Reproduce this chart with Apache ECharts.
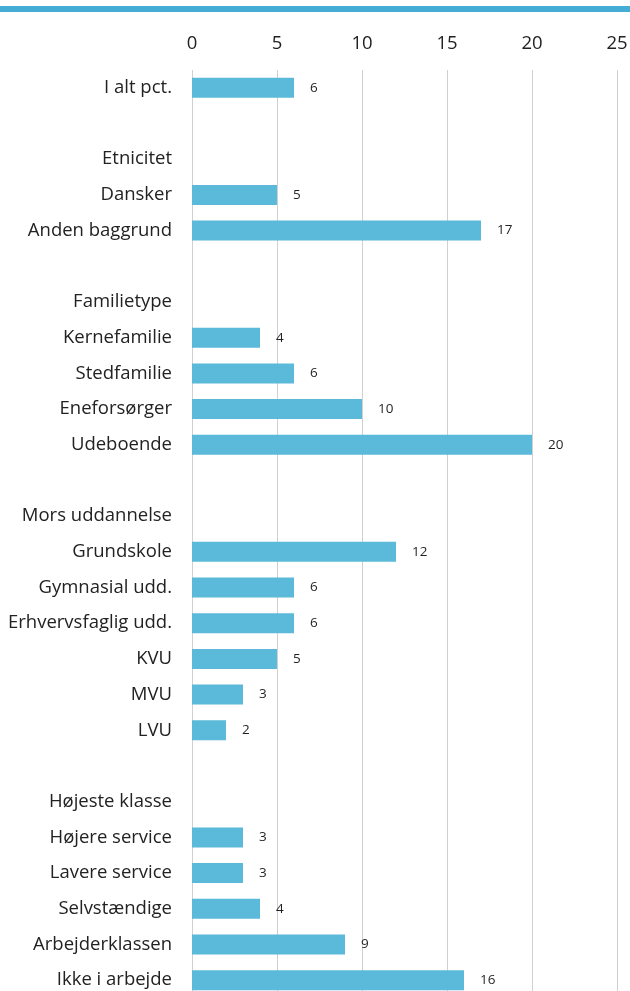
<!DOCTYPE html>
<html>
<head>
<meta charset="utf-8">
<script src="https://cdn.jsdelivr.net/npm/echarts@6/dist/echarts.min.js"></script>
<style>
  html, body { margin: 0; padding: 0; background: #fff; }
  #chart { width: 630px; height: 991px; }
</style>
</head>
<body>
<div id="chart"></div>
<script>
// rækker fra top til bund; tomme rækker er mellemrum mellem grupperne
const categories = [
  'I alt pct.', ' ', 'Etnicitet', 'Dansker', 'Anden baggrund', '  ',
  'Familietype', 'Kernefamilie', 'Stedfamilie', 'Eneforsørger', 'Udeboende', '   ',
  'Mors uddannelse', 'Grundskole', 'Gymnasial udd.', 'Erhvervsfaglig udd.', 'KVU', 'MVU', 'LVU', '    ',
  'Højeste klasse', 'Højere service', 'Lavere service', 'Selvstændige', 'Arbejderklassen', 'Ikke i arbejde'
];
const values = [
  6, null, null, 5, 17, null,
  null, 4, 6, 10, 20, null,
  null, 12, 6, 6, 5, 3, 2, null,
  null, 3, 3, 4, 9, 16
];
const ticks = [0, 5, 10, 15, 20, 25];

const chart = echarts.init(document.getElementById('chart'));

chart.setOption({
  animation: false,
  textStyle: { fontFamily: 'Open Sans' },
  graphic: [{
    type: 'rect',
    shape: { x: 0, y: 6, width: 630, height: 6 },
    style: { fill: '#45acd6' }
  }],
  grid: { left: 192, right: 13, top: 70, height: 928, outerBoundsMode: 'none', containLabel: false },
  xAxis: {
    type: 'value',
    position: 'top',
    min: ticks[0],
    max: ticks[ticks.length - 1],
    interval: 5,
    axisLine: { show: false },
    axisTick: { show: false },
    axisLabel: { fontSize: 18.5, color: '#222', margin: 17 },
    splitLine: { lineStyle: { color: '#d0d0d0', width: 1 } }
  },
  yAxis: {
    type: 'category',
    inverse: true,
    data: categories,
    axisLine: { show: false },
    axisTick: { show: false },
    axisLabel: { fontSize: 18.5, color: '#222', margin: 20 }
  },
  series: [{
    type: 'bar',
    data: values,
    barWidth: 20,
    itemStyle: { color: '#56b7d8', opacity: 0.97 },
    label: {
      show: true,
      position: 'right',
      distance: 16,
      fontSize: 13.5,
      color: '#1a1a1a'
    }
  }]
});
</script>
</body>
</html>
